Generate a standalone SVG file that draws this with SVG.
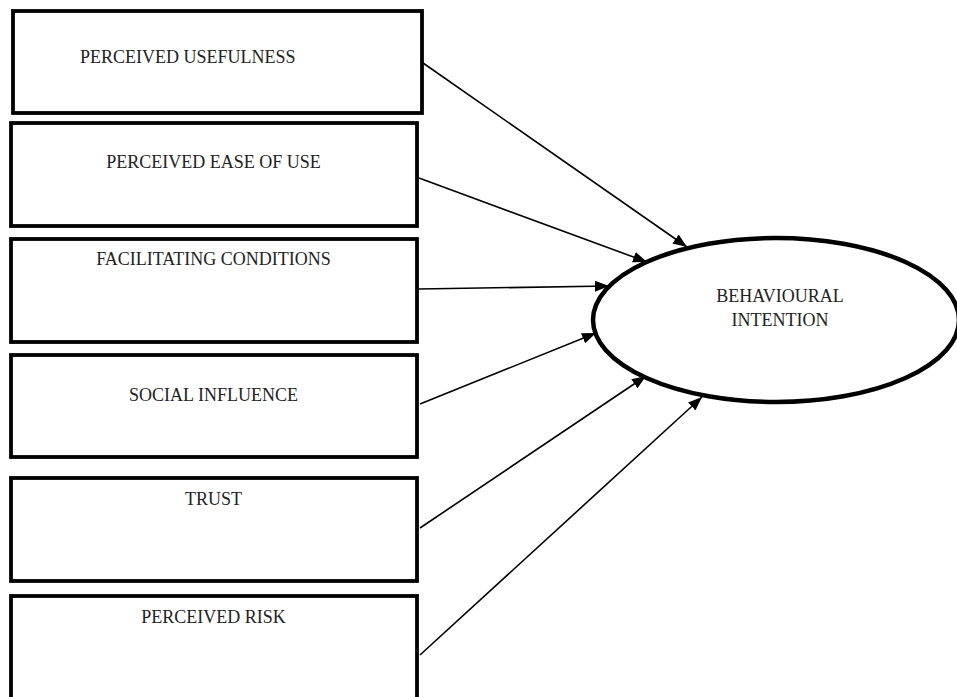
<svg xmlns="http://www.w3.org/2000/svg" width="957" height="697" viewBox="0 0 957 697">
<defs>
<style>
.box{fill:#fff;stroke:#000;stroke-width:3.8}
.lbl{font-family:"Liberation Serif","Times New Roman",serif;font-size:18px;fill:#222}
.ctr{text-anchor:middle}
.conn line{stroke:#000;stroke-width:1.6}
</style>
<marker id="ah" viewBox="0 0 14 11" refX="14" refY="5.5" markerWidth="14" markerHeight="11" markerUnits="userSpaceOnUse" orient="auto">
<path d="M0,0 L14,5.5 L0,11 Z" fill="#000"/>
</marker>
</defs>
<rect width="957" height="697" fill="#fff"/>
<g id="n-pu"><rect class="box" x="13" y="11" width="409" height="102"/><text class="lbl" x="80" y="63">PERCEIVED USEFULNESS</text></g>
<g id="n-peou"><rect class="box" x="11" y="123" width="406" height="103"/><text class="lbl ctr" x="213.5" y="168">PERCEIVED EASE OF USE</text></g>
<g id="n-fc"><rect class="box" x="11" y="239" width="406" height="103"/><text class="lbl ctr" x="213.5" y="265">FACILITATING CONDITIONS</text></g>
<g id="n-si"><rect class="box" x="11" y="355" width="406" height="102"/><text class="lbl ctr" x="213.5" y="401">SOCIAL INFLUENCE</text></g>
<g id="n-trust"><rect class="box" x="11" y="478" width="406" height="103"/><text class="lbl ctr" x="213.5" y="505">TRUST</text></g>
<g id="n-pr"><rect class="box" x="11" y="596" width="406" height="110"/><text class="lbl ctr" x="213.5" y="623">PERCEIVED RISK</text></g>
<g id="n-bi"><ellipse cx="776" cy="320" rx="183" ry="82" fill="#fff" stroke="#000" stroke-width="4.5"/><text class="lbl ctr" x="780" y="302">BEHAVIOURAL</text><text class="lbl ctr" x="780" y="326">INTENTION</text></g>
<g id="connectors" class="conn">
<line x1="423" y1="63" x2="687" y2="247" marker-end="url(#ah)"/>
<line x1="419" y1="178" x2="647" y2="262" marker-end="url(#ah)"/>
<line x1="419" y1="289" x2="609" y2="286" marker-end="url(#ah)"/>
<line x1="420" y1="404" x2="596" y2="333" marker-end="url(#ah)"/>
<line x1="420" y1="528" x2="646" y2="376" marker-end="url(#ah)"/>
<line x1="420" y1="655" x2="702" y2="397" marker-end="url(#ah)"/>
</g>
</svg>
